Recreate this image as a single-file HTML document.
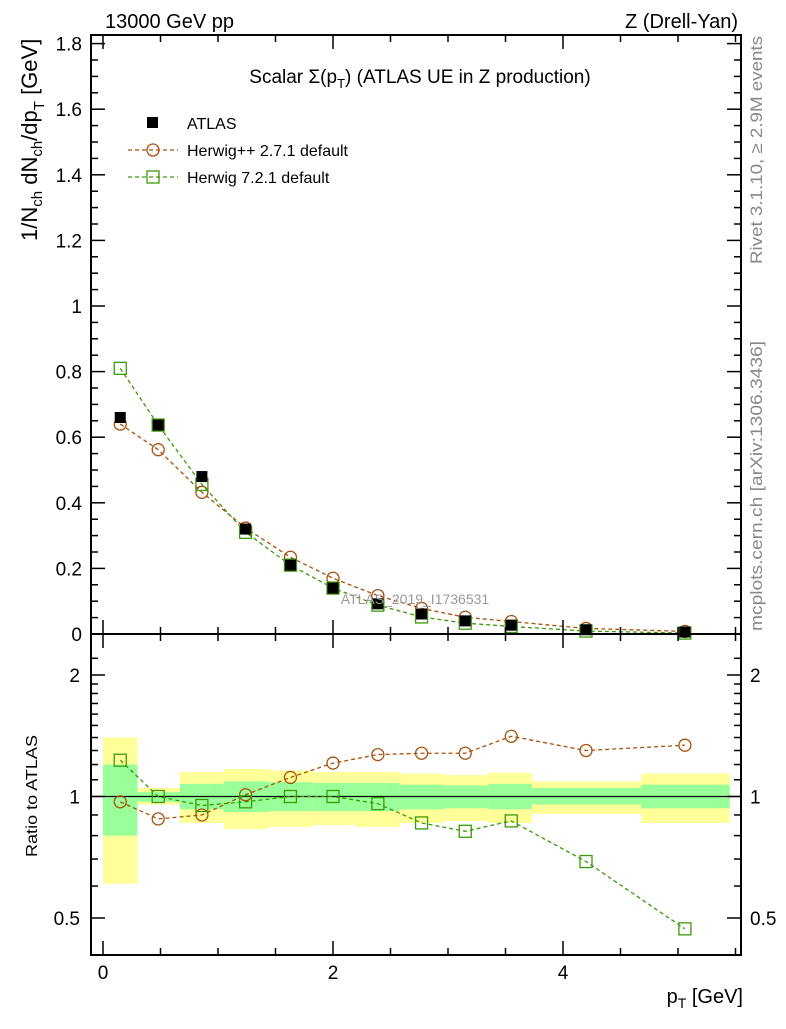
<!DOCTYPE html>
<html><head><meta charset="utf-8"><style>
body{margin:0;background:#fff}
svg{font-family:"Liberation Sans",sans-serif}
</style></head><body>
<svg id="c" width="786" height="1024" viewBox="0 0 786 1024" xmlns="http://www.w3.org/2000/svg">
<g id="bands"></g>
<g id="marks"></g>
<g id="axes"></g>
<text x="105" y="28" font-size="20">13000 GeV pp</text>
<text x="738" y="28" font-size="20" text-anchor="end">Z (Drell-Yan)</text>
<text x="420" y="83" font-size="19" text-anchor="middle">Scalar Σ(p<tspan font-size="13" dy="5">T</tspan><tspan dy="-5">) (ATLAS UE in Z production)</tspan></text>
<g>
<rect x="147" y="117" width="11" height="11" fill="#000"/>
<text x="187" y="129" font-size="16">ATLAS</text>
<line x1="128" y1="150" x2="178" y2="150" stroke="#a8500c" stroke-width="1.3" stroke-dasharray="4,3"/>
<circle cx="153" cy="150" r="6" fill="none" stroke="#a8500c" stroke-width="1.3"/>
<text x="187" y="156" font-size="16">Herwig++ 2.7.1 default</text>
<line x1="128" y1="177" x2="178" y2="177" stroke="#3a9a0a" stroke-width="1.3" stroke-dasharray="4,3"/>
<rect x="147" y="171" width="12" height="12" fill="none" stroke="#3a9a0a" stroke-width="1.3"/>
<text x="187" y="183" font-size="16">Herwig 7.2.1 default</text>
</g>
<text x="415" y="604" font-size="14" fill="#999" text-anchor="middle">ATLAS_2019_I1736531</text>
<text transform="translate(762,150) rotate(-90)" font-size="17" fill="#888" text-anchor="middle" textLength="228" lengthAdjust="spacingAndGlyphs">Rivet 3.1.10, ≥ 2.9M events</text>
<text transform="translate(762,486) rotate(-90)" font-size="17" fill="#888" text-anchor="middle" textLength="290" lengthAdjust="spacingAndGlyphs">mcplots.cern.ch [arXiv:1306.3436]</text>
<text transform="translate(37,241) rotate(-90)" font-size="22">1/N<tspan font-size="15" dy="5">ch</tspan><tspan dy="-5"> dN</tspan><tspan font-size="15" dy="5">ch</tspan><tspan dy="-5">/dp</tspan><tspan font-size="15" dy="7">T</tspan><tspan dy="-7"> [GeV]</tspan></text>
<text transform="translate(37,796) rotate(-90)" font-size="16" text-anchor="middle" textLength="122" lengthAdjust="spacingAndGlyphs">Ratio to ATLAS</text>
<text x="743" y="1003" font-size="20" text-anchor="end">p<tspan font-size="14" dy="5">T</tspan><tspan dy="-5"> [GeV]</tspan></text>
</svg>
<script>
const xCenters=[0.15,0.48,0.86,1.24,1.63,2.0,2.39,2.77,3.15,3.55,4.2,5.06];
const binEdges=[0,0.3,0.67,1.05,1.44,1.82,2.2,2.58,2.97,3.35,3.73,4.68,5.45];
const atlas=[0.66,0.637,0.48,0.32,0.21,0.14,0.092,0.061,0.04,0.027,0.013,0.006];
const herwigpp=[0.64,0.562,0.432,0.323,0.234,0.17,0.117,0.078,0.051,0.038,0.017,0.008];
const herwig7=[0.81,0.637,0.456,0.31,0.21,0.14,0.088,0.052,0.033,0.023,0.009,0.0028];
const ratioPP=[0.97,0.88,0.90,1.01,1.115,1.21,1.27,1.28,1.28,1.41,1.30,1.34];
const ratio7=[1.23,1.0,0.95,0.97,1.0,1.0,0.96,0.86,0.82,0.87,0.69,0.47];
const yellowUp=[1.40,1.05,1.15,1.17,1.16,1.15,1.15,1.14,1.13,1.145,1.09,1.14];
const yellowDn=[0.608,0.955,0.86,0.83,0.84,0.85,0.84,0.86,0.87,0.86,0.905,0.86];
const greenUp=[1.20,1.025,1.075,1.09,1.085,1.08,1.08,1.07,1.065,1.075,1.05,1.07];
const greenDn=[0.80,0.97,0.93,0.915,0.92,0.92,0.92,0.93,0.935,0.93,0.955,0.935];
const mainTicks=[0,0.2,0.4,0.6,0.8,1,1.2,1.4,1.6,1.8];
const mainTickLabels=["0","0.2","0.4","0.6","0.8","1","1.2","1.4","1.6","1.8"];
const ratioTicks=[0.5,1,2];
const ratioTickLabels=["0.5","1","2"];
const xTicks=[0,2,4];
const xTickLabels=["0","2","4"];

const X0=91,X1=741,MT=35,MB=634,RT=634,RB=955;
const sx=v=>103+v*115;
const sy=v=>634-v*328;
const sr=r=>796.5-121.5*Math.log2(r);
const NS='http://www.w3.org/2000/svg';
function mk(parent,tag,attrs){const e=document.createElementNS(NS,tag);for(const k in attrs)e.setAttribute(k,attrs[k]);document.getElementById(parent).appendChild(e);return e;}

for(let i=0;i<xCenters.length;i++){
  const x=sx(binEdges[i]),w=sx(binEdges[i+1])-x;
  const y=mk('bands','rect',{x:x,y:sr(yellowUp[i]),width:w,height:sr(yellowDn[i])-sr(yellowUp[i]),fill:'#ffff99'});
  
  
  const g=mk('bands','rect',{x:x,y:sr(greenUp[i]),width:w,height:sr(greenDn[i])-sr(greenUp[i]),fill:'#99ff99'});
  
  
}
const one=mk('bands','line',{x1:X0,x2:X1,y1:sr(1),y2:sr(1),stroke:'#000','stroke-width':1.3});



function series(vals,fy,color,shape,name){
  const pts=vals.map((v,i)=>sx(xCenters[i])+','+fy(v)).join(' ');
  const l=mk('marks','polyline',{points:pts,fill:'none',stroke:color,'stroke-width':1.3,'stroke-dasharray':'4,3'});
  
  
  vals.forEach((v,i)=>{
    const cx=sx(xCenters[i]),cy=fy(v);let m;
    if(shape==='c')m=mk('marks','circle',{cx:cx,cy:cy,r:6,fill:'none',stroke:color,'stroke-width':1.3});
    else m=mk('marks','rect',{x:cx-6,y:cy-6,width:12,height:12,fill:'none',stroke:color,'stroke-width':1.3});
    
    
  });
}
series(herwigpp,sy,'#a8500c','c','herwigpp-main');
series(herwig7,sy,'#3a9a0a','s','herwig7-main');
atlas.forEach((v,i)=>{
  const m=mk('marks','rect',{x:sx(xCenters[i])-5.5,y:sy(v)-5.5,width:11,height:11,fill:'#000'});
  
  
});
series(ratioPP,sr,'#a8500c','c','herwigpp-ratio');
series(ratio7,sr,'#3a9a0a','s','herwig7-ratio');

[[MT,MB],[RT,RB]].forEach(([t,b],k)=>{
  const f=mk('axes','rect',{x:X0,y:t,width:X1-X0,height:b-t,fill:'none',stroke:'#000','stroke-width':2});
  
  
});
for(let v=0;v<=5.5;v+=0.5){
  const maj=Math.abs(v%2)<1e-6;const L=maj?14:7;
  [[MT,1],[MB,-1],[RT,1],[RB,-1]].forEach(([y,d])=>{
    const t=mk('axes','line',{x1:sx(v),x2:sx(v),y1:y,y2:y+d*L,stroke:'#000','stroke-width':1.5});
    
    
  });
}
xTicks.forEach((v,i)=>{
  const t=mk('axes','text',{x:sx(v),y:979,'font-size':19,'text-anchor':'middle'});t.textContent=xTickLabels[i];
  
  
});
for(let v=0;v<=1.82;v+=0.05){
  const maj=Math.abs(v*5-Math.round(v*5))<1e-6;const L=maj?14:7;
  [[X0,1],[X1,-1]].forEach(([x,d])=>{
    const t=mk('axes','line',{x1:x,x2:x+d*L,y1:sy(v),y2:sy(v),stroke:'#000','stroke-width':1.5});
    
    
  });
}
mainTicks.forEach((v,i)=>{
  const t=mk('axes','text',{x:82,y:sy(v)+7,'font-size':19,'text-anchor':'end'});t.textContent=mainTickLabels[i];
  
  
});
const rminor=[0.4,0.5,0.6,0.7,0.8,0.9,1,1.1,1.2,1.3,1.4,1.5,1.6,1.7,1.8,1.9,2,2.2];
rminor.forEach(v=>{
  const y=sr(v);if(y<RT||y>RB)return;
  const maj=ratioTicks.includes(v);const L=maj?14:7;
  [[X0,1],[X1,-1]].forEach(([x,d])=>{
    const t=mk('axes','line',{x1:x,x2:x+d*L,y1:y,y2:y,stroke:'#000','stroke-width':1.5});
    
    
  });
});
ratioTicks.forEach((v,i)=>{
  const a=mk('axes','text',{x:80,y:sr(v)+7,'font-size':19,'text-anchor':'end'});a.textContent=ratioTickLabels[i];
  
  
  const b=mk('axes','text',{x:750,y:sr(v)+7,'font-size':19});b.textContent=ratioTickLabels[i];
  
  
});
</script>
</body></html>
